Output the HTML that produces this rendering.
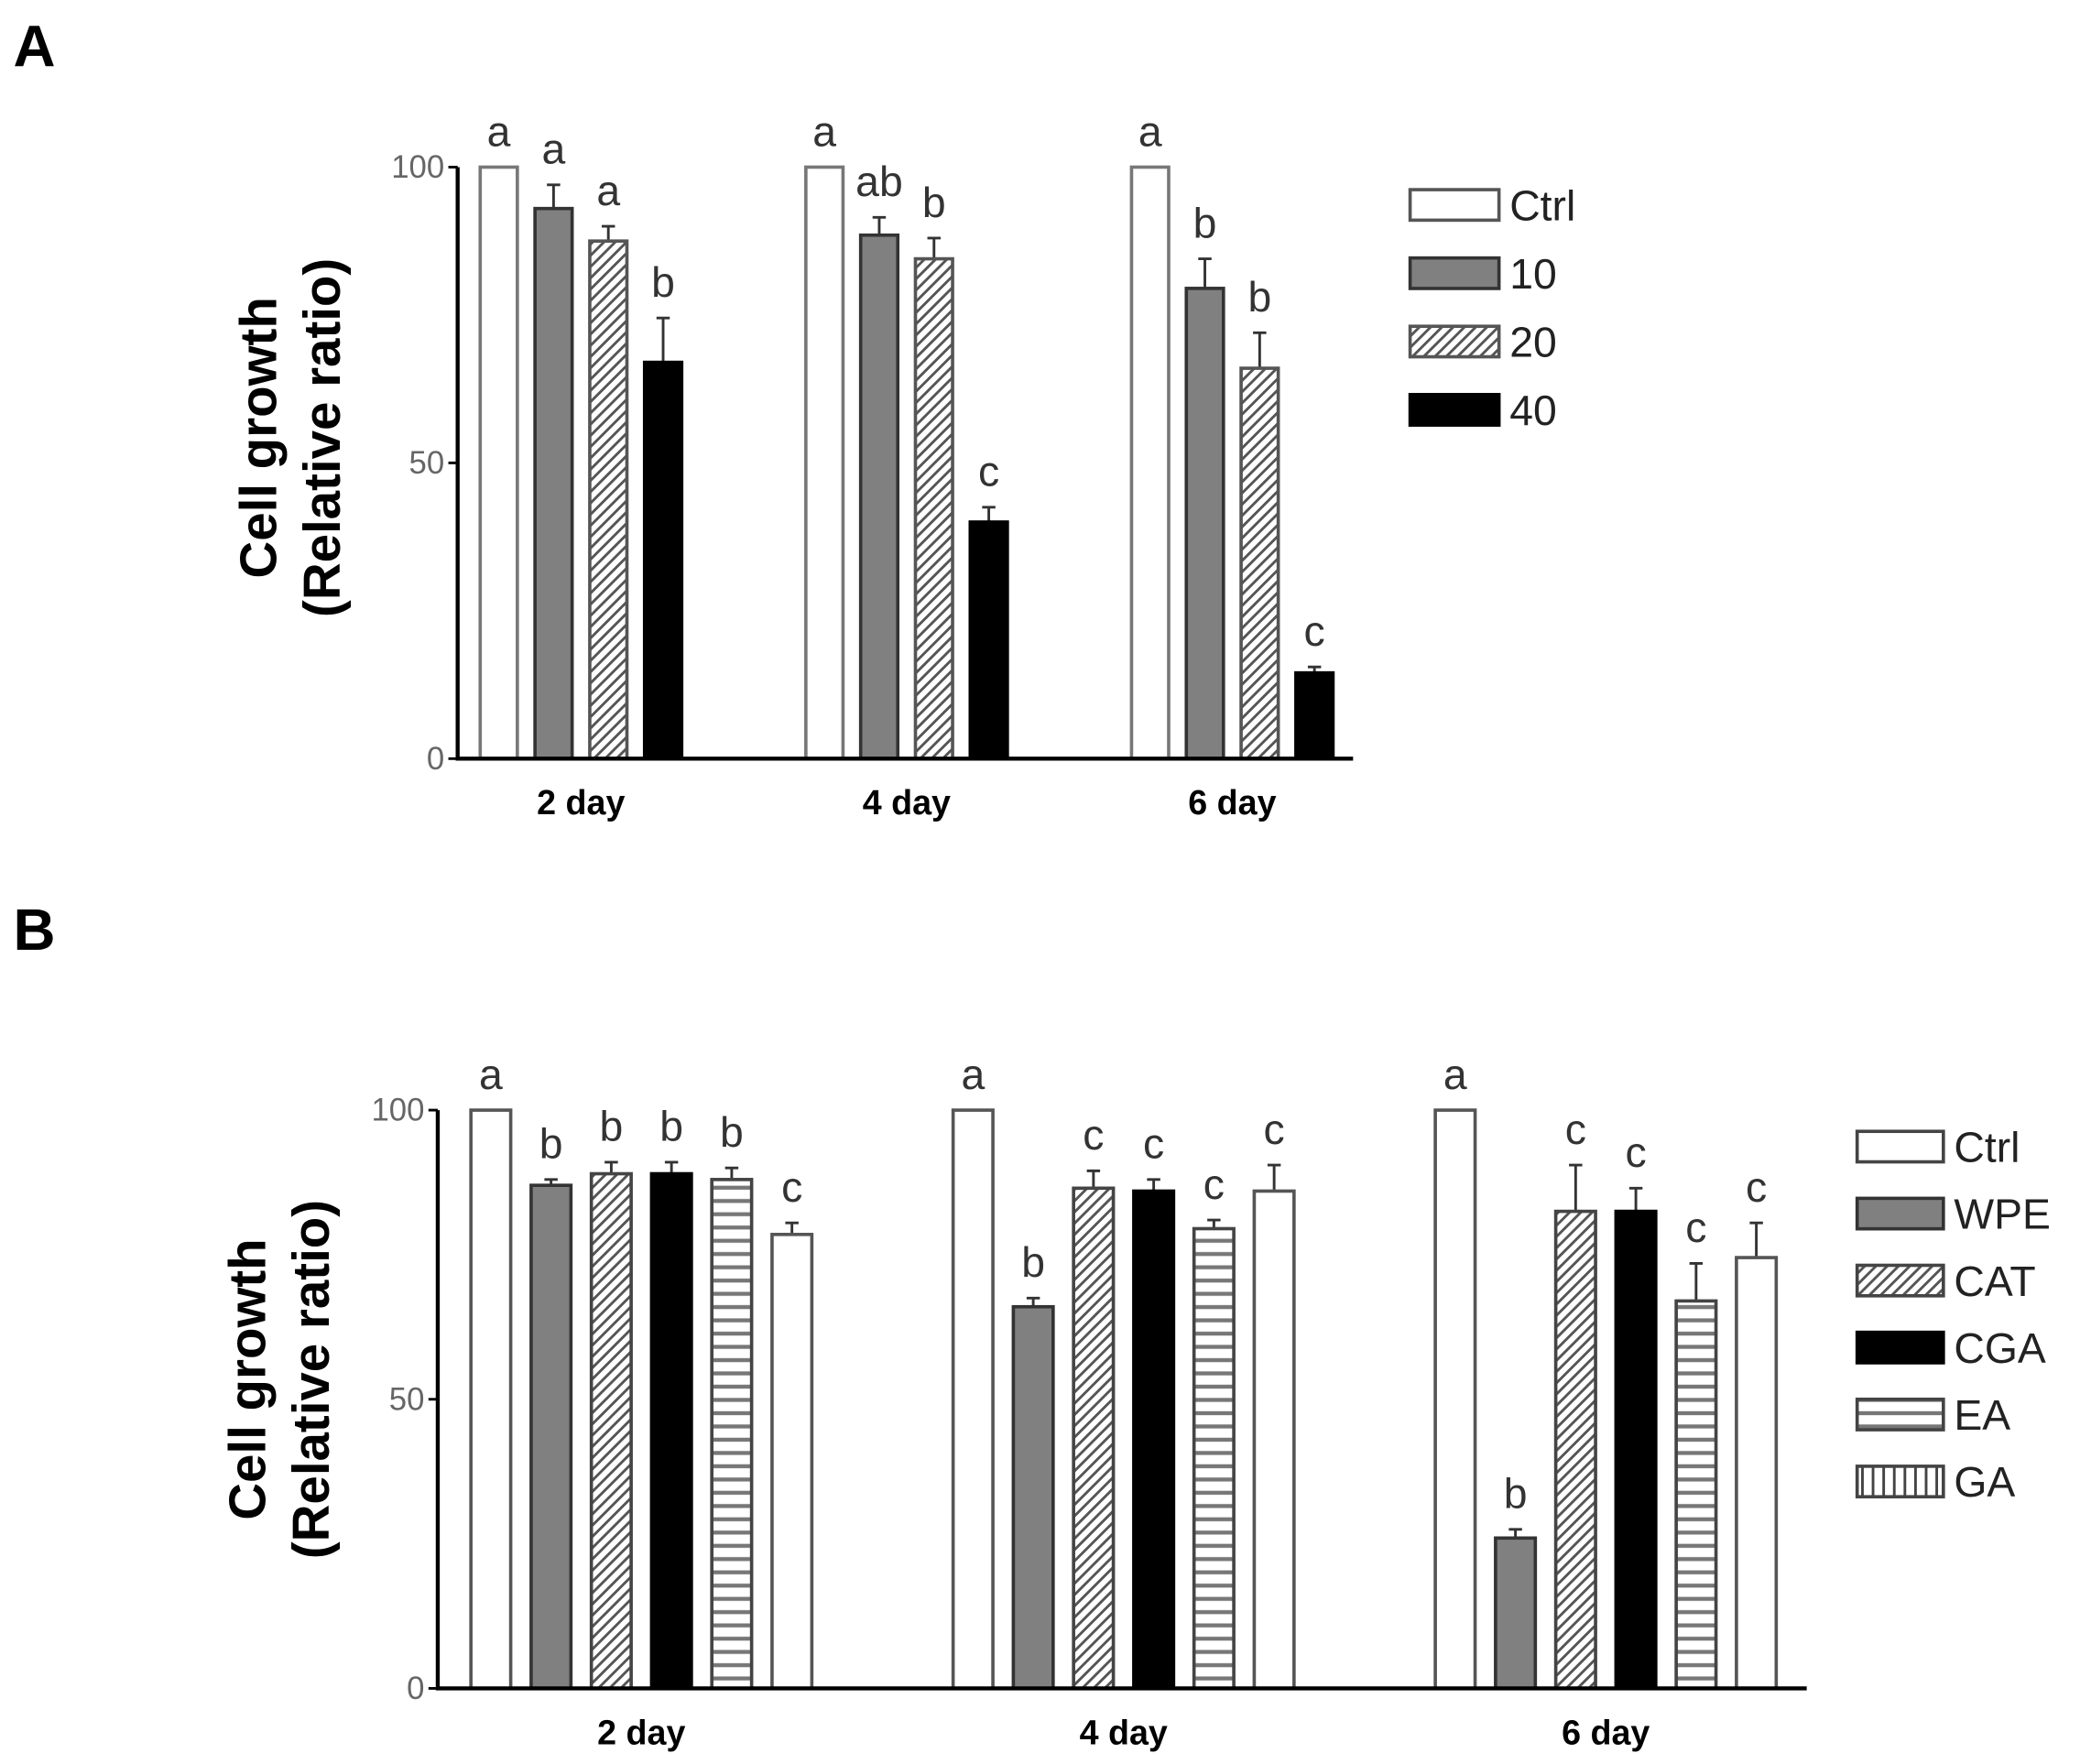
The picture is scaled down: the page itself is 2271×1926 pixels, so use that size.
<!DOCTYPE html>
<html><head><meta charset="utf-8"><style>html,body{margin:0;padding:0;background:#fff}svg{display:block}text{font-family:"Liberation Sans",sans-serif}</style></head>
<body>
<svg id="fig" width="2271" height="1926" viewBox="0 0 1568 1330" preserveAspectRatio="none" xmlns="http://www.w3.org/2000/svg">
<defs>
<pattern id="diag" patternUnits="userSpaceOnUse" width="6" height="6" patternTransform="rotate(45)"><rect width="6" height="6" fill="#fff"/><rect width="2" height="6" fill="#555"/></pattern>
<pattern id="hstripe" patternUnits="userSpaceOnUse" width="8" height="10"><rect width="8" height="10" fill="#fff"/><rect y="4" width="8" height="3" fill="#777"/></pattern>
<pattern id="vstripe" patternUnits="userSpaceOnUse" width="8" height="8"><rect width="8" height="8" fill="#fff"/><rect x="3" width="2" height="8" fill="#444"/></pattern>
</defs>
<g id="gA"></g>
<g id="gB"></g>
</svg>
<script>
// Panel A data
const catsA = ["2 day","4 day","6 day"];
const seriesA = ["Ctrl","10","20","40"];
const valsA_ctrl = [100,100,100];
const valsA_10 = [93,88.5,79.5];
const valsA_20 = [87.5,84.5,66];
const valsA_40 = [67,40,14.5];
const errA_ctrl = [0,0,0];
const errA_10 = [4,3,5];
const errA_20 = [2.5,3.5,6];
const errA_40 = [7.5,2.5,1];
const lettersA = [["a","a","a","b"],["a","ab","b","c"],["a","b","b","c"]];
// Panel B data
const catsB = ["2 day","4 day","6 day"];
const seriesB = ["Ctrl","WPE","CAT","CGA","EA","GA"];
const valsB_ctrl = [100,100,100];
const valsB_wpe = [87,66,26];
const valsB_cat = [89,86.5,82.5];
const valsB_cga = [89,86,82.5];
const valsB_ea = [88,79.5,67];
const valsB_ga = [78.5,86,74.5];
const errB_ctrl = [0,0,0];
const errB_wpe = [1,1.5,1.5];
const errB_cat = [2,3,8];
const errB_cga = [2,2,4];
const errB_ea = [2,1.5,6.5];
const errB_ga = [2,4.5,6];
const lettersB = [["a","b","b","b","b","c"],["a","b","c","c","c","c"],["a","b","c","c","c","c"]];
const yTicks = [0,50,100];

const NS="http://www.w3.org/2000/svg";
function mk(parent,tag,attrs,txt){const e=document.createElementNS(NS,tag);for(const k in attrs)e.setAttribute(k,attrs[k]);if(txt!==undefined)e.textContent=txt;parent.appendChild(e);return e;}

function panel(g,cfg){
  const y=v=>cfg.y0-(cfg.y0-cfg.y100)*v/100;
  const lbl=mk(g,'text',{x:cfg.lx,y:cfg.ly,'font-size':44,'font-weight':'bold'},cfg.letter);
  
  
  cfg.vals.forEach((vals,s)=>{
    vals.forEach((v,c)=>{
      const x=cfg.x0+c*cfg.gstep+s*cfg.bstep;
      const top=y(v+cfg.errs[s][c]);
      if(cfg.errs[s][c]>0){
        const el=mk(g,'path',{d:`M${x+cfg.bw/2},${y(v)} V${top} M${x+cfg.bw/2-5},${top} H${x+cfg.bw/2+5}`,stroke:'#333','stroke-width':2,fill:'none'});
        
        
      }
      const r=mk(g,'rect',{x:x,y:y(v),width:cfg.bw,height:y(0)-y(v),fill:cfg.fills[s],stroke:cfg.strokes[s],'stroke-width':2.5});
      
      
      const t=mk(g,'text',{x:x+cfg.bw/2,y:top-16,'text-anchor':'middle','font-size':32,fill:'#333'},cfg.letters[c][s]);
      
      
    });
  });
  const ax=mk(g,'path',{d:`M${cfg.ax},${cfg.y100} V${cfg.y0} H${cfg.axEnd}`,stroke:'#000','stroke-width':3,fill:'none'});
  
  
  yTicks.forEach(tv=>{
    const tk=mk(g,'line',{x1:cfg.ax-7,x2:cfg.ax,y1:y(tv),y2:y(tv),stroke:'#000','stroke-width':2});
    
    
    const tl=mk(g,'text',{x:cfg.ax-10,y:y(tv)+8,'text-anchor':'end','font-size':24,fill:'#666'},tv);
    
    
  });
  cfg.cats.forEach((c,i)=>{
    const cx=cfg.x0+i*cfg.gstep+((cfg.series.length-1)*cfg.bstep+cfg.bw)/2;
    const t=mk(g,'text',{x:cx,y:cfg.y0+42,'text-anchor':'middle','font-size':26,'font-weight':'bold'},c);
    
    
  });
  const tg=mk(g,'text',{transform:`translate(${cfg.tx},${cfg.ty}) rotate(-90)`,'text-anchor':'middle','font-size':39,'font-weight':'bold'});
  
  
  mk(tg,'tspan',{x:0,y:0},'Cell growth');
  mk(tg,'tspan',{x:0,y:48},'(Relative ratio)');
  cfg.series.forEach((s,i)=>{
    const yy=cfg.legY+i*cfg.legStep;
    const b=mk(g,'rect',{x:cfg.legX,y:yy,width:cfg.legW,height:23,fill:cfg.legFills[i],stroke:cfg.legStrokes[i],'stroke-width':2.5});
    
    
    const t=mk(g,'text',{x:cfg.legX+cfg.legW+8,y:yy+23,'font-size':32,fill:'#222'},s);
    
    
  });
}

panel(document.getElementById('gA'),{letter:'A',lx:10,ly:50,cats:catsA,series:seriesA,
  vals:[valsA_ctrl,valsA_10,valsA_20,valsA_40],errs:[errA_ctrl,errA_10,errA_20,errA_40],letters:lettersA,
  fills:['#fff','#808080','url(#diag)','#000'],strokes:['#777','#333','#555','#000'],
  x0:362,gstep:245.5,bstep:41.3,bw:28,y0:572,y100:126,ax:345,axEnd:1020,tx:208,ty:330,
  legX:1063,legY:143,legStep:51.5,legW:67,legFills:['#fff','#808080','url(#diag)','#000'],legStrokes:['#555','#333','#555','#000']});
panel(document.getElementById('gB'),{letter:'B',lx:10,ly:716,cats:catsB,series:seriesB,
  vals:[valsB_ctrl,valsB_wpe,valsB_cat,valsB_cga,valsB_ea,valsB_ga],errs:[errB_ctrl,errB_wpe,errB_cat,errB_cga,errB_ea,errB_ga],letters:lettersB,
  fills:['#fff','#808080','url(#diag)','#000','url(#hstripe)','#fff'],strokes:['#555','#333','#444','#000','#444','#555'],
  x0:355,gstep:363.5,bstep:45.4,bw:30,y0:1273,y100:837,ax:330,axEnd:1362,tx:200,ty:1040,
  legX:1400,legY:853,legStep:50.5,legW:65,legFills:['#fff','#808080','url(#diag)','#000','url(#hstripe)','url(#vstripe)'],legStrokes:['#444','#333','#444','#000','#444','#444']});
</script>
</body></html>
